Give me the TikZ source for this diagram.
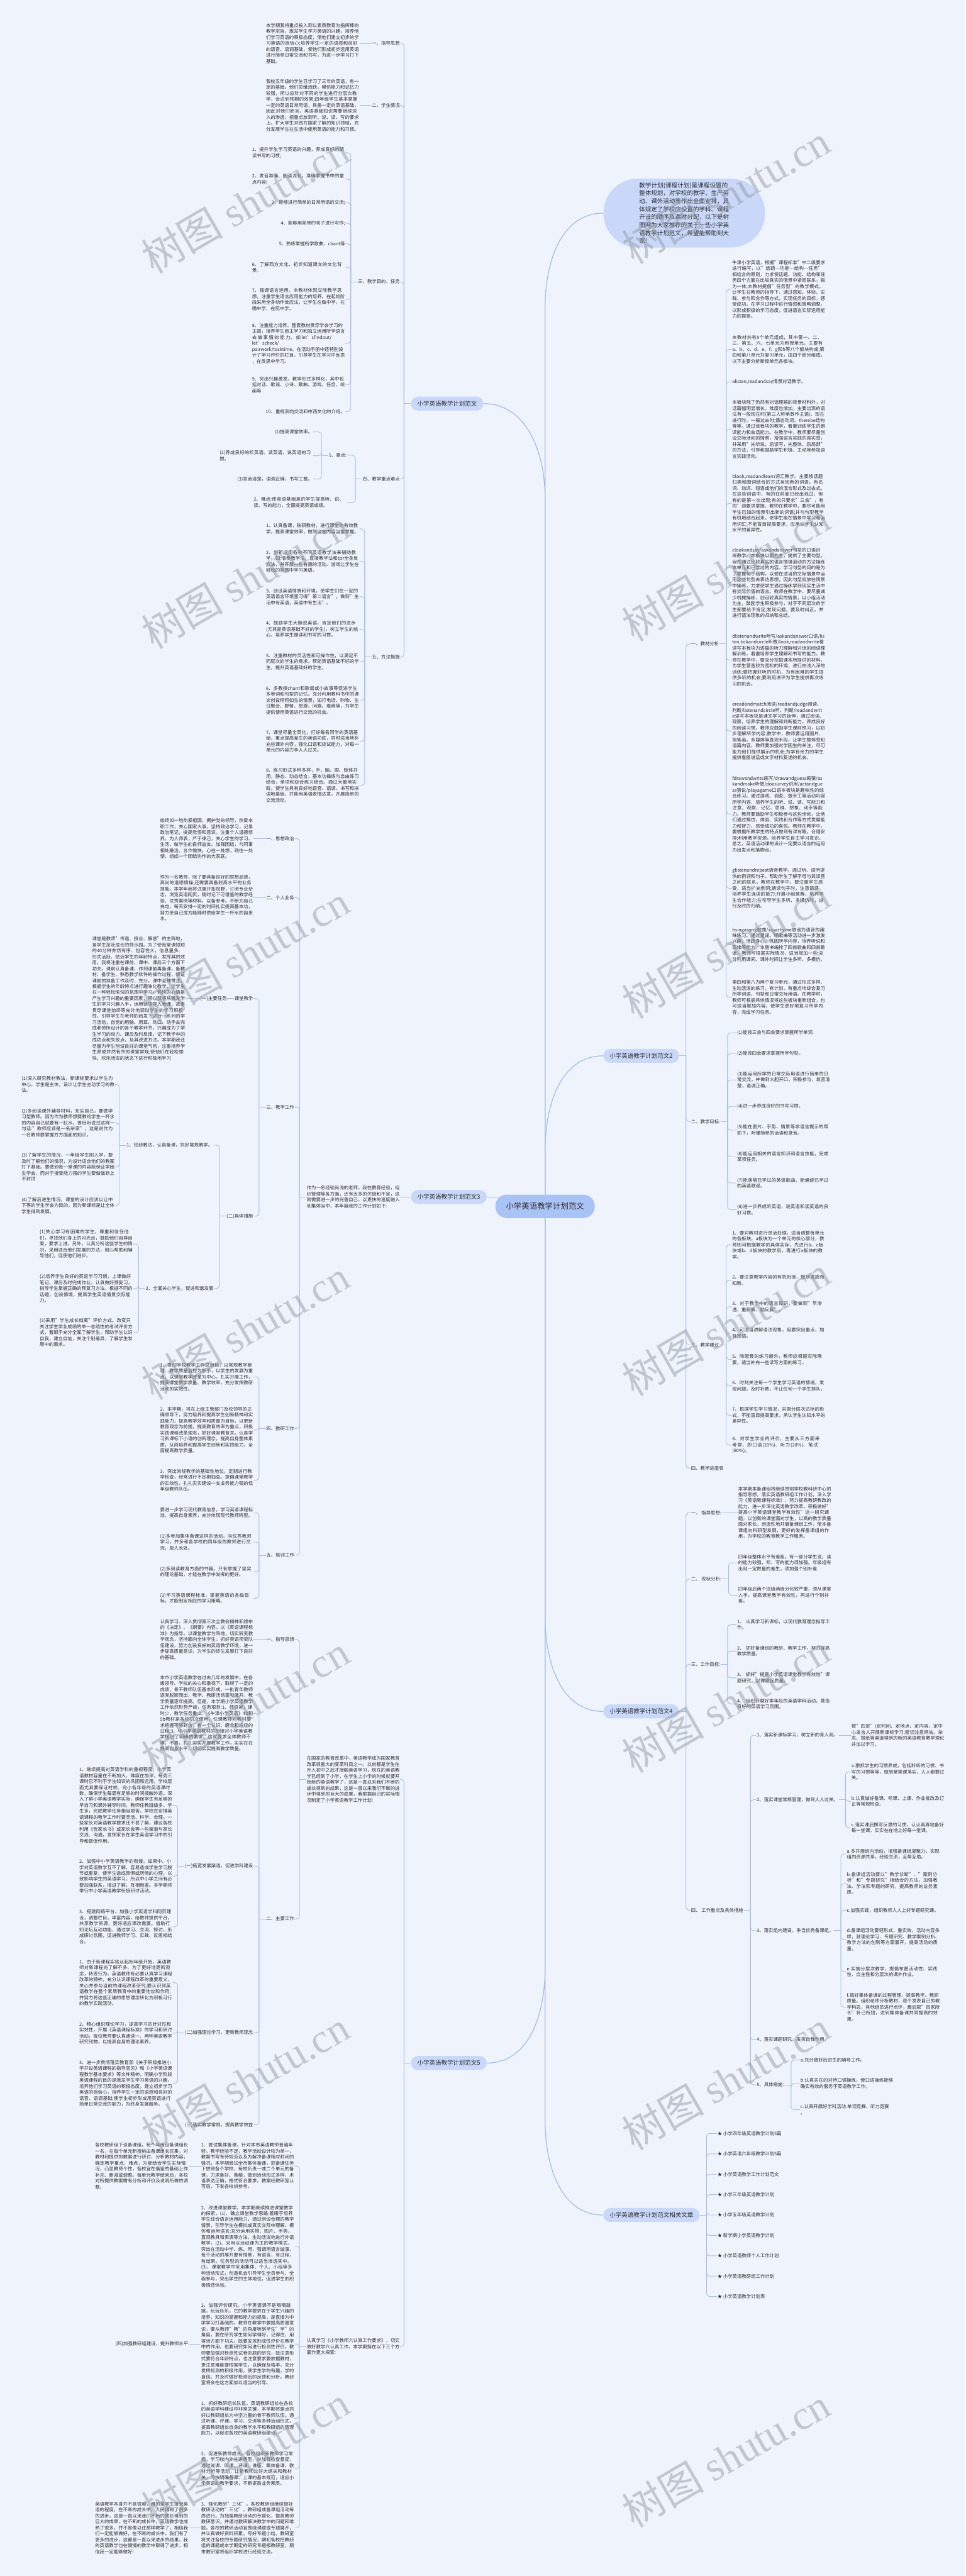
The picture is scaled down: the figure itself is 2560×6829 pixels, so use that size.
\documentclass[tikz,border=0pt]{standalone}
\usepackage{fontspec}
\setmainfont{Noto Sans CJK SC}
\newfontfamily\wmfont{Liberation Serif}
\usetikzlibrary{backgrounds}
\XeTeXlinebreaklocale "zh"
\XeTeXlinebreakskip = 0pt plus 1pt

\definecolor{bgcol}{RGB}{238,243,252}
\definecolor{linecol}{RGB}{166,190,232}
\definecolor{rootcol}{RGB}{170,195,247}
\definecolor{fwcol}{RGB}{201,216,249}
\definecolor{txtcol}{RGB}{45,45,45}
\definecolor{wmcol}{RGB}{150,155,165}

% bracket from a parent to its children (left / right side)
\newcommand{\brl}[2]{\draw[subconn] (#1.west) -- ++(-18,0) coordinate (bk);
  \foreach \nd in {#2}{\draw[subconn] (bk) |- (\nd.east);}}
\newcommand{\brr}[2]{\draw[subconn] (#1.east) -- ++(18,0) coordinate (bk);
  \foreach \nd in {#2}{\draw[subconn] (bk) |- (\nd.west);}}
\newcommand{\onel}[2]{\draw[subconn] (#1.west) -- (#1.west -| #2.east);}
\newcommand{\oner}[2]{\draw[subconn] (#1.east) -- (#1.east -| #2.west);}

\begin{document}
\begin{tikzpicture}[x=0.02cm, y=-0.02cm,
  txt/.style={font=\fontsize{7}{9}\selectfont, text=txtcol, text width=4.93cm, align=left, inner sep=0.5pt},
  lbl/.style={font=\fontsize{7}{9}\selectfont, text=txtcol, inner sep=0.5pt},
  fw/.style={font=\fontsize{9}{11}\selectfont, text=txtcol, fill=fwcol, rounded corners=0.37cm, minimum height=0.74cm, inner xsep=0.34cm},
  rootbox/.style={font=\fontsize{11.8}{14}\selectfont, text=txtcol, fill=rootcol, rounded corners=0.6cm, minimum height=1.24cm, inner xsep=0.56cm},
  bubble/.style={font=\fontsize{9}{12}\selectfont, text=txtcol, fill=fwcol, rounded corners=1.8cm, text width=4.78cm, align=left, inner xsep=1.89cm, inner ysep=0.2cm},
  conn/.style={draw=linecol, line width=1.2pt},
  subconn/.style={draw=linecol, line width=0.85pt, rounded corners=4.5pt},
  wm/.style={text=wmcol, text opacity=0.5, rotate=30, font=\fontsize{62}{62}\selectfont, inner sep=0pt}]
\useasboundingbox (0,0) rectangle (2560,6829);

% Root and intro
\node[rootbox] (root) at (1445,3198) {小学英语教学计划范文};
\node[bubble] (bub) at (1814,565) {教学计划(课程计划)是课程设置的整体规划，对学校的教学、生产劳动、课外活动等作出全面安排，具体规定了学校应设置的学科、课程开设的顺序及课时分配，以下是树图网为大家推荐的关于一些小学英语教学计划范文，希望能帮助到大家!};

% Branch: 范文 (top left)
\node[fw, anchor=west] (fa) at (1089,1070) {小学英语教学计划范文};
\node[lbl, anchor=east] (a1) at (1061,115) {一、指导思想};
\node[txt, anchor=east] (a1t) at (953,115) {本学期我将重点投入到以素质教育为指挥棒的教学宗旨，激发学生学习英语的兴趣，培养他们学习英语的积极态度，使他们建立初步的学习英语的自信心;培养学生一定的语感和良好的语音、语调基础，使他们形成初步运用英语进行简单日常交流和书写，为进一步学习打下基础。};
\node[lbl, anchor=east] (a2) at (1061,279) {二、学生情况};
\node[txt, anchor=east] (a2t) at (953,279) {我校五年级的学生已学习了三年的英语，有一定的基础。他们思维活跃，模仿能力和记忆力较强，所以应针对不同的学生进行分层次教学，会达到预期的效果;四年级学生基本掌握一定的英语日常用语，具备一定的英语基础，因此对他们而言，英语基础知识需要继续深入的渗透，把重点放到听、说、读、写的要求上。扩大学生对西方国家了解的知识领域，充分发展学生在生活中使用英语的能力和习惯。};
\node[lbl, anchor=east] (a3) at (1061,747) {三、教学目的、任务};
\node[txt, anchor=east] (a3c1) at (916,405) {1、提升学生学习英语的兴趣，养成良好的朗读书写的习惯;};
\node[txt, anchor=east] (a3c2) at (916,475) {2、发音准确、朗读流利，准确掌握书中的重点内容;};
\node[lbl, anchor=east] (a3c3) at (916,537) {3、能够进行简单的日常用语的交流;};
\node[lbl, anchor=east] (a3c4) at (916,592) {4、能够用简单的句子进行写作;};
\node[lbl, anchor=east] (a3c5) at (916,646) {5、熟练掌握所学歌曲、chant等};
\node[txt, anchor=east] (a3c6) at (916,709) {6、了解西方文化，初步知道课文的文化背景。};
\node[txt, anchor=east] (a3c7) at (916,794) {7、强调语言运用。本教材体现交际教学思想，注重学生语言应用能力的培养。在起始阶段采用全身动作反应法，让学生在做中学，在唱中学，在玩中学。};
\node[txt, anchor=east] (a3c8) at (916,910) {8、注重能力培养。整套教材贯穿学会学习的\\主题，培养学生自主学习和独立运用所学语言\\去做事情的能力。如let'sfindout/let'scheck/\\pairwork/tasktime。在活动手册中还特别设\\计了学习评价的栏目。引导学生在学习中反思\\，在反思中学习。};
\node[txt, anchor=east] (a3c9) at (916,1020) {9、突出兴趣激发。教学形式多样化，其中包括对话、歌谣、小诗、歌曲、游戏、任务、绘画等};
\node[lbl, anchor=east] (a3c10) at (916,1091) {10、重视双向交流和中西文化的介绍。};
\node[lbl, anchor=east] (a4) at (1061,1270) {四、教学重点难点};
\node[lbl, anchor=east] (a4a) at (920,1207) {1、重点:};
\node[lbl, anchor=east] (a4a1) at (830,1145) {(1)提高课堂效率。};
\node[txt, anchor=east] (a4a2) at (830,1208) {(2)养成良好的听英语、读英语、说英语的习惯。};
\node[lbl, anchor=east] (a4a3) at (830,1270) {(3)发音清楚，语调正确，书写工整。};
\node[txt, anchor=east] (a4b) at (920,1332) {2、难点:使英语基础差的学生提高听、说、读、写的能力，全面提高英语成绩。};
\node[lbl, anchor=east] (a5) at (1061,1742) {五、方法措施};
\node[txt, anchor=east] (a5c1) at (953,1402) {1、认真备课，钻研教材，进行课堂的有效教学，提高课堂效率，做到当堂内容当堂掌握。};
\node[txt, anchor=east] (a5c2) at (953,1488) {2、创新运用各种不同英语教学法来辅助教学，如:情景教学法、直接教学法和tpr全身反应法，并开展一些有趣的活动、游戏让学生在轻松的氛围中学习英语。};
\node[txt, anchor=east] (a5c3) at (953,1582) {3、创设英语情景和环境，使学生们在一定的英语语言环境里习得"第二语言"。做到"生活中有英语，英语中有生活"。};
\node[txt, anchor=east] (a5c4) at (953,1668) {4、鼓励学生大胆说英语，肯定他们的进步(尤其是英语基础不好的学生)，树立学生的信心，培养学生朗读和书写的习惯。};
\node[txt, anchor=east] (a5c5) at (953,1754) {5、注重教材的灵活性和可操作性，以满足不同层次的学生的需求。帮助英语基础不好的学生，提升英语基础好的学生。};
\node[txt, anchor=east] (a5c6) at (953,1856) {6、多教授chant和歌谣或小故事等促进学生多单词和句型的记忆。充分利用教科书中的课文创设栩栩如生的情景，如打电话、购物、生日聚会、野餐、旅游、问路、看病等，为学生提供使用英语进行交流的机会。};
\node[txt, anchor=east] (a5c7) at (953,1965) {7、课堂尽量全英化，打好每名同学的英语基础，重点提高差生的英语功底，同时适当地补充些课外内容，强化口语和应试能力，对每一单元的内容力争人人过关。};
\node[txt, anchor=east] (a5c8) at (953,2082) {8、练习形式多种多样，手、脑、眼、肢体并用，静态、动态结合，基本功操练与自由练习结合，单项和综合练习结合。通过大量地实践，使学生具有良好地语音、语调、书写和拼读地基础，并能用英语表情达意，开展简单的交流活动。};

% Branch: 范文3 (left middle)
\node[fw, anchor=west] (fc) at (1089,3173) {小学英语教学计划范文3};
\node[txt, anchor=east] (c0) at (1061,3173) {作为一名经验尚浅的老师，我在教育经验，组织管理等各方面，还有太多的欠缺和不足，这就需要进一步的完善自己，以更快的速度融入到集体当中，本年度我的工作计划如下:};
\node[lbl, anchor=east] (c1) at (781,2223) {一、思想政治};
\node[txt, anchor=east] (c1t) at (672,2223) {始终如一地热爱祖国，拥护党的领导，热爱本职工作，关心国家大事，坚持政治学习，记录政治笔记，提高觉悟和意识。注重个人道德修养，为人师表，严于律己，关心学生的学习、生活，做学生的良师益友。加强团结，与同事相处融洽，合作愉快，心往一处想，劲往一处使，组成一个团结协作的大家庭。};
\node[lbl, anchor=east] (c2) at (781,2380) {二、个人业务};
\node[txt, anchor=east] (c2t) at (672,2380) {作为一名教师，除了要具备良好的思想品德，高尚的道德情操;还需要具备较高水平的业务技能。本学年我将注重开拓视野，订阅专业杂志，浏览英语网页，随时记下可借鉴的教学经验、优秀案例等材料，以备参考。不断为自己充电，每天安排一定的时间扎实提高基本功，努力使自己成为能随时供给学生一杯水的自来水。};
\node[lbl, anchor=east] (c3) at (781,2935) {三、教学工作};
\node[lbl, anchor=east] (c3a) at (672,2647) {(一)主要任务——课堂教学};
\node[txt, anchor=east] (c3at) at (492,2647) {课堂是教师"传道、授业、解惑"的主阵地，是学生茁壮成长的快乐园。为了使每堂课短短的40分钟井然有序、包容性大，信息量多、形式活跃、贴近学生的年龄特点，发挥其的效用。我将注重在课前、课中、课后三个方面下功夫。课前认真备课，作到课前再备课，备教材、备学生，熟悉教学软件的操作过程，保证课前的准备工作及时、充分。课中全神贯注。根据学生的年龄特点进行趣味化教学，让学生在一种轻松愉快的氛围中学习。愉快的心情是产生学习兴趣的重要因素，所以我将从激发学生的学习兴趣入手，运用谜语导入新课，故事贯穿课堂始终等充分地调动学生的学习积极性，引导学生在老师的启发下进行一系列的学习活动，自觉的用脑、用耳、动口、动手去完成老师所设计的各个教学环节，兴趣成为了学生学习的动力。课后及时反馈。记下教学中的成功点和失败点，及其改进方法。本学期我还尽量为学生创设良好的课堂气氛，注重培养学生养成井然有序的课堂常规;使他们在轻松愉快、欢乐活泼的状态下进行积极地学习};
\node[lbl, anchor=east] (c3b) at (672,3224) {(二)具体措施};
\node[lbl, anchor=east] (c3b1) at (565,3036) {1、钻研教法，认真备课，抓好常规教学。};
\node[txt, anchor=east] (c3b1a) at (305,2875) {(1)深入研究教材教法，新课标要求以学生为中心，学生是主体，设计让学生主动学习的教法。};
\node[txt, anchor=east] (c3b1b) at (305,2977) {(2)多阅读课外辅导材料，充实自己，要做学习型教师。因为作为教师想要教给学生一杯水的内容自己就要有一缸水。曾经听说过这样一句话:"教师应该是一名杂家"，这是说作为一名教师要掌握方方面面的知识。};
\node[txt, anchor=east] (c3b1c) at (305,3094) {(3)了解学生的情况，一年级学生刚入学，要及时了解他们的情况，为设计适合他们的教案打下基础。要做到每一堂课的内容能保证学困生学会，而对于接受能力强的学生要做做到上不封顶};
\node[txt, anchor=east] (c3b1d) at (305,3196) {(4)了解后进生情况，课堂的设计应该以让中下等的学生学会为目的，因为新课标是让全体学生得到发展。};
\node[lbl, anchor=east] (c3b2) at (567,3416) {2、全面关心学生，促进和谐发展};
\node[txt, anchor=east] (c3b2a) at (353,3298) {(1)关心学习有困难的学生，尊重和信任他们，寻找他们身上的闪光点，鼓励他们自尊自爱，要求上进。另外，认真分析这些学生的情况，采用适合他们发展的方法，耐心帮助和辅导他们，促使他们进步。};
\node[txt, anchor=east] (c3b2b) at (353,3416) {(2)培养学生良好的英语学习习惯，上课做好笔记，课后及时完成作业，认真做好预复习，指导学生掌握正确的预复习方法。根据不同的话题，创设情境，提高学生英语情景交际能力。};
\node[txt, anchor=east] (c3b2c) at (353,3533) {(3)采用"学生成长档案"评价方式。改变只关注学生学业成绩的单一总结性的考试评价方式，着眼于充分全面了解学生，帮助学生认识自我，建立自信，关注个别差异，了解学生发展中的需求。};
\node[lbl, anchor=east] (c4) at (781,3787) {四、教研工作};
\node[txt, anchor=east] (c4a) at (672,3650) {1、贯彻学校教学工作总目标，以常规教学管理、教学质量监控为抓手，以学生的发展为重点，以课堂教学改革为中心，扎实开展工作，提高课堂教学质量、教学效率，充分发挥教研活动的实效性。};
\node[txt, anchor=east] (c4b) at (672,3791) {2、本学期，将在上级主管部门及校领导的正确领导下，努力培养和提高学生创新精神和实践能力，提高教学效率和质量为目标，以更新教育观念为前提，提高教育效率为重点，积极实践课程改革理念，抓好课堂教育关。认真学习新课标下小语的创新理念，提高自身整体素质，从而培养和提高学生创新和实践能力，全面提高教学质量。};
\node[txt, anchor=east] (c4c) at (672,3924) {3、突出常规教学的基础性地位，定期进行教学检查，经常进行不定期抽查。提倡课堂教学的实效性，扎扎实实建设一支业务能力强的低年级教师队伍。};
\node[lbl, anchor=east] (c5) at (781,4123) {五、培训工作};
\node[txt, anchor=east] (c5a) at (672,4010) {要进一步学习现代教育信息，学习英语课程标准，提高自身素养，充分体现现代教师转型。};
\node[txt, anchor=east] (c5b) at (672,4088) {(1)多参加集体备课这样的活动，向优秀教师学习。并多和各学校的同年级的教师进行交流，取人长处。};
\node[txt, anchor=east] (c5c) at (672,4167) {(2)多阅读教育方面的书籍。只有掌握了坚实的理论基础，才能在教学中发挥的更好。};
\node[txt, anchor=east] (c5d) at (672,4237) {(3)学习英语课程标准，掌握英语的各级目标，才能制定相应的学习策略。};

% Branch: 范文5 (bottom left)
\node[fw, anchor=west] (fe) at (1089,5469) {小学英语教学计划范文5};
\node[txt, anchor=east] (e1) at (1061,4717) {在国家的教育改革中，英语教学成为国家教育改革很重大的变革科目之一。以前都是学生在升入初中之后才接触英语学习，现在的英语教学已经到了小学，在学生上小学的时候就要开始新的英语教学了，这是一直以来我们不断的成长得到的成果，这是一直以来我们不断的进步中得到的巨大的成果，我根据自己的实际情况制定了小学英语教学工作计划:};
\node[lbl, anchor=east] (e1a) at (781,4346) {一、指导思想};
\node[txt, anchor=east] (e1at) at (672,4346) {认真学习、深入贯彻第三次全教会精神和颁布的《决定》、《纲要》内容，以《英语课程标准》为指导，以课堂教学为阵地，切实转变教学观念，坚持面向全体学生，抓好英语师资队伍建设，努力创设良好的英语教学环境，进一步提高质量意识，为学生的终生发展打下良好的基础。};
\node[lbl, anchor=east] (e1b) at (781,5087) {二、主要工作};
\node[txt, anchor=east] (e1b1) at (672,4542) {本市小学英语教学在过去几年的发展中，在各级领导、学校的关心和重视下，取得了一定的成绩，骨干教师队伍基本形成，一批青年教师逐渐脱颖而出，教学、教研活动蓬勃展开，教学质量逐年提高。但是，本学期小学英语教学工作依然形势严峻，任务艰巨:1、师资紧，课时少，教学任务重;2、《牛津小学英语》4b和5b教材是各校初次使用，任课教师对教材要求把握不够到位，有一个认识、磨合和适应的过程;3、中小学英语教材的衔接对小学英语教学提出了明确的要求。这就要求全体教师不等、不靠，扎扎实实开展教学工作，实实在在提高自身水平，切切实实提高教学质量。};
\node[lbl, anchor=east] (e1b2) at (672,4947) {(一)拓宽发展渠道，促进学科建设};
\node[txt, anchor=east] (e1b2a) at (458,4786) {1、继续提高对英语学科的重视程度。小学英语教材容量在不断加大，难度在加深，每周三课时已不利于学生知识的巩固和运用。学校层面尤其要保证村校、完小各年级的英语课时数，确保学生每周有足够的时间接触外语。深入了解小学英语教学实际，确保学生有足够的早自习和课外辅导时间。教师任教班级多，学生多，完成教学任务相当艰苦，学校在安排英语课程的教学工作时要灵活、科学、合理。一些家长对英语教学要求还不甚了解，建议各校利用《告家长书》或家长会等一些渠道与家长交流、沟通，发挥家长在学生英语学习中的引导和督促作用。};
\node[txt, anchor=east] (e1b2b) at (458,4974) {2、加强中小学英语教学的衔接。如果中、小学对英语教学互不了解，容易造成学生学习脱节或重复，使学生造成畏惧或厌倦的心理，以致影响学生的英语学习。所以中小学之间有必要加强联系，增进了解，互相借鉴。本学期将举行中小学英语教学衔接研讨活动。};
\node[txt, anchor=east] (e1b2c) at (458,5108) {3、搭建网络平台。加强小学英语学科网页建设，调整栏目，丰富内容，给教师提供平台，共享教学资源，更好适应课改需要。借助行知论坛互动功能，通过学习、交流、探讨，形成研讨氛围，促进教师学习、实践、反思相结合。};
\node[lbl, anchor=east] (e1b3) at (672,5389) {(二)加强理论学习，更新教师观念};
\node[txt, anchor=east] (e1b3a) at (458,5256) {1、由于新课程实验从起始年级开始，英语教师对新课程尚了解不多，为了更好地更新观念，转变行为，英语教师有必要认真学习课程改革的精神，充分认识课程改革的重要意义，关心并参与当前的课程改革研究;要认识到英语教学在整个素质教育中的重要地位和作用;并努力将这些正确的思想理念转化为积极可行的教学实践活动。};
\node[txt, anchor=east] (e1b3b) at (458,5390) {2、精心组织理论学习，提高学习的针对性和实效性，开展《英语课程标准》的学习和研讨活动，每位教师要认真通读一、两种英语教学研究刊物，以提高自身的理论素养。};
\node[txt, anchor=east] (e1b3c) at (458,5523) {3、进一步贯彻落实教育部《关于积极推进小学开设英语课程的指导意见》和《小学英语课程教学基本要求》等文件精神，明确小学阶段英语课程的目的是激发学生学习英语的兴趣，培养他们学习英语的积极态度，建立初步学习英语的自信心，培养学生一定的语感和良好的语音、语调基础;使学生初步形成用英语进行简单日常交流的能力，为终身发展服务。};
\node[lbl, anchor=east] (e1b4) at (672,5633) {(三)落实教学常规，提高教学效益};
\node[txt, anchor=east] (e2) at (1061,6221) {认真学习《小学教师六认真工作要求》，切实做好教学六认真工作。本学期拟在以下三个方面作更大探索:};
\node[txt, anchor=east] (e2a) at (781,5742) {1、尝试集体备课。针对本市英语教师普遍年轻，教学经验不足，教学活动设计较为单一，教案书写有待规范以及为解决备课相对封闭的情况，本学期尝试全市集体备课，把备课任务下放到各个学校，每校负责一或二个单元的备课，力求备好、备精，做到活动形式多样，术语表达正确，格式符合要求。教案经教研室认可后，下发各校供参考。};
\node[txt, anchor=east] (e2at) at (500,5742) {各校教研组下设备课组，每个年级设备课组长一名，在每个单元新授前由备课组长召集，对教材和提供的教案进行研讨，分析教材内容，确定教学重点、难点，为能结合学生实际情况，凸显教师个性，各校宜在借鉴的基础上作补充、删减或调整。每单元教学结束后，各校对所提供教案需有分析和评价及说明所做的调整。};
\node[txt, anchor=east] (e2b) at (781,5955) {2、改进课堂教学。本学期继续推进课堂教学的探索，(1)、确立课堂教学思路:着眼于培养学生综合语言运用能力，通过创设合理的教学情景，引导学生在模拟或真实交际中理解、模仿和运用语言;充分运用实物、图片、手势、直观教具和表演等方法，生动活泼地进行外语教学。(2)、采用以活动课为主的教学模式，突出在活动中学、练、用，强调用语言做事，每个活动的展开要有情景，有语言，有过程，有结果。任务型的活动可以适当渗透其中。(3)、课堂教学中采用集体、个人、小组等多种活动形式，创造机会引导学生全员参与、全程参与，突出学生的主体地位，促进学生的积极情感体验。};
\node[txt, anchor=east] (e2c) at (781,6214) {3、加强评价研究。小学英语课不是唱唱跳跳，玩玩乐乐，它的教学要求在于学生兴趣的培养，知识的掌握和能力的提高，是直接为中学学习打基础的。教师在教学中要提高质量意识，要从教师"教"的角度转到学生"学"的角度，要在研究学生如何学得好，记得住，用得活方面下功夫。既要发挥形成性评价在教学中的作用，也要研究如何进行检测性评价。教师要加强对检测性试卷命题的研究，既注意形式要符合年龄特点，也注意要求要依据教材，更注意难度要根据学生，以确保及格率，充分发挥检测的积极作用，使学生学的有趣，学的自信。并及时做好检测后的反馈和分析。教研室将会在这方面加以适当的引导。};
\node[lbl, anchor=east] (e2ct) at (500,6214) {(四)加强教研组建设，提升教师水平};
\node[txt, anchor=east] (e2d) at (781,6411) {1、抓好教研组长队伍。英语教研组长在各校的英语学科建设中非常关键，本学期将重点抓好以教研组长为中坚力量的骨干教师队伍。通过听课、评课，学习、交流等多种活动形式，提高教研组长自身的教学水平和教研组的管理能力，以促进各校的英语教研组建设。};
\node[txt, anchor=east] (e2e) at (781,6544) {2、促进新教师成长。各校组织新教师学习常规，学习校内外先进典型，并加强检查督促，通过说课、听课、评课、讲座、集体备课、教材分析等活动，让新教师过好大纲关和教材关，尽快明确备课、上课的基本规范，适应小学英语的教学要求，不断提高业务素质。};
\node[txt, anchor=east] (e2f) at (781,6701) {3、强化教研"三化"。各校教研组继续做好教研活动的"三化"，教研组或备课组活动每周进行。为加强教研活动的专题化，提高教师教研意识，并通过教研解决教学中的问题和难题，各校的教研活动宜围绕课题或专题展开，并认真做好资料积累，写好专题小结。教研室将关注各校的专题研究情况，期初各校把教研组的课题或本学期定的研究专题报教研室，期末教研室将组织学校进行经验交流。};
\node[txt, anchor=east] (e2ft) at (500,6701) {英语教学本身并不是很难，难的是学生接受英语的程度，在不断的成长中，人民得到了很多的进步，这是一直以来我们不断的成长得到的巨大的成果，在不断的成长中，英语教学也成熟了很多，并不是像以往那样教学了，相信我们一定能够做好，在不断的成长中，我们有了更多的进步，这都是一直以来进步的结果。我的英语教学也在慢慢的教学中取得了进步，相信我一定能够做好!};

% Branch: 范文2 (right)
\node[fw, anchor=west] (fb) at (1599,2799) {小学英语教学计划范文2};
\node[lbl, anchor=west] (b1) at (1831,1707) {一、教材分析};
\node[txt, anchor=west] (b1c1) at (1940,767) {牛津小学英语，根据"课程标准"中二级要求进行编写，以"话题-{}-{}-功能-{}-{}-结构-{}-{}-任务"相结合的原则，力求使话题、功能、结构和任务四个方面在比较真实的情景中紧密联系，融为一体;本教材提倡"任务型"的教学模式，让学生在教师的指导下，通过感知、体验、实践、参与和合作等方式，实现任务的目标，感受成功。在学习过程中进行情感和策略调整，以形成积极的学习态度，促进语言实际运用能力的提高。};
\node[txt, anchor=west] (b1c2) at (1940,926) {本教材共有8个单元组成，其中第一、二、三，第五、六、七单元为新授单元，主要有a、b、c、d、e、f、g和h等八个板块构成;第四和第八单元为复习单元，由四个部分组成。以下主要分析新授单元各板块。};
\node[lbl, anchor=west] (b1c3) at (1940,1012) {alisten,readandsay情景对话教学。};
\node[txt, anchor=west] (b1c4) at (1940,1138) {本板块除了仍然有对话理解的背景材料外，对话篇幅明显增长，难度也增加，主要出现的语法有一般现在时(第三人称单数作主语)、现在进行时、一般过去时;情态动词、therebe结构等等。通过该板块的教学，着重训练学生的朗读能力和会话能力。在教学中，教师要尽量创设交际活动的情景，增强语言实践的真实感，并采用"先听说、后读写，先整体、后局部"的方法，引导和鼓励学生积极、主动地参加语言实践活动。};
\node[txt, anchor=west] (b1c5) at (1940,1334) {blook,readandlearn词汇教学。主要按话题归类和图词结合的方式呈现新的词语，有名词、动词、短语或他们的混合形式及过去式。在这些词语中，有的在前面已经出现过，但有的是第一次出现;有的只要求"三会"，有的"却要求掌握。教师在教学中，要尽可能用学生已知的情景引出新的词语;并与句型教学有机地结合起来，使学生能在情景中学习和运用词汇;不能盲目提高要求，应承认学生认知水平的差异性。};
\node[txt, anchor=west] (b1c6) at (1940,1545) {clookandsay/askandanswer句型的口语训\\练教学。本板块以图为主，提供了主要句型，旨在通过比较真实的语言情境滚动的方法操练本单元和已学过的内容。学习句型的目的是为了掌握句子结构，以便在适当的交际情景中运用这些句型去表达思想，因此句型应放在情景中操练，力求使学生通过操练学到现实生活中有交际价值的语言。教师在教学中，要尽量减少机械操练，创设较真实的情景，以小组活动为主，鼓励学生积极参与，对于不同层次的学生都要给予肯定;发现问题，要及时纠正，并进行语法现象的归纳和总结。};
\node[txt, anchor=west] (b1c7) at (1940,1750) {dlistenandwrite听写/askandanswer口语/lis\\ten,tickandcircle听做/look,readandwrite看\\读写本板块为语篇的听力理解和对话的阅读理解训练，着重培养学生理解和书写的能力。教师在教学中，要充分挖掘课本所提供的材料，为学生营造较为宽松的环境，进行由浅入深的训练;要把握好听的时机，为有困难的学生提供多听的机会;要利用讲评为学生提供再次练习的机会。};
\node[txt, anchor=west] (b1c8) at (1940,1938) {ereadandmatch阅读/readandjudge阅读、\\判断/listenandcircle听、判断/readandwrit\\e读写本板块是课文学习的延伸，通过阅读、观察，培养学生的理解和判断能力，养成良好的阅读习惯。教师应鼓励学生课前预习，以初步理解所学内容;教学中，教师要运用图片、简笔画，多媒体等直观手段，让学生整体感知语篇内容。教师要加强对学困生的关注，尽可能为他们提供展示的机会;为学有余力的学生提供看图说话或文字材料复述的机会。};
\node[txt, anchor=west] (b1c9) at (1940,2158) {fdrawandwrite画写/drawandguess画猜/as\\kandmake听做/doasurvey说用/actandgue\\ss猜说/playagame口语本板块是趣味性的综合练习。通过游戏、调查、做手工等活动巩固所学内容，培养学生的听、说、读、写能力和注意、观察、记忆、思维、想象、动手等能力。教师要鼓励学生积极参与这些活动，让他们通过模仿、体验、实践和合作等方式发展能力和智力，感受成功的喜悦。教师在教学中，要根据所教学生的特点做到有详有略，合理安排;利用教学资源，培养学生自主学习意识。总之，英语活动课的设计一定要以语言的运用为出发点和落脚点。};
\node[txt, anchor=west] (b1c10) at (1940,2355) {glistenandrepeat语音教学。通过听、读所提供的例词和句子，帮助学生了解字母与其读音之间的联系。教师在教学中，要注重学生感受，适当扩充例词;朗读句子时，注意语感，培养学生连读的能力;开展小组竞赛，培养学生合作能力;在引导学生多听、多模仿时，进行及时的归纳。};
\node[txt, anchor=west] (b1c11) at (1940,2504) {hsingasong歌曲/sayarhyme歌谣为语音的趣味练习。通过童谣、唱歌曲等活动进一步激发兴趣，活跃身心，巩固所学内容，培养听说和思维等能力。本册书编排了四首歌曲和四首歌谣，教师可根据实际情况，适当增加一些;充分利用课间、课外时间让学生多听、多模仿。};
\node[txt, anchor=west] (b1c12) at (1940,2644) {第四和第八为两个复习单元，通过形式多样、生动活泼的练习，有计划、有重点地综合复习所学词语、句型和日常交际用语。在教学时，教师可根据具体情况将这些板块重新组合，也可适当增加内容，使学生更好地复习所学内容，完成学习任务。};
\node[lbl, anchor=west] (b2) at (1831,2973) {二、教学目标:};
\node[lbl, anchor=west] (b2c1) at (1953,2738) {(1)能按三会与四会要求掌握所学单词.};
\node[lbl, anchor=west] (b2c2) at (1953,2793) {(2)能按四会要求掌握所学句型。};
\node[txt, anchor=west] (b2c3) at (1953,2863) {(3)能运用所学的日常交际用语进行简单的日常交流，并做到大胆开口，积极参与，发音清楚，语调正确。};
\node[lbl, anchor=west] (b2c4) at (1953,2933) {(4)进一步养成良好的书写习惯。};
\node[txt, anchor=west] (b2c5) at (1953,2996) {(5)能在图片、手势、情景等非语言提示的帮助下，听懂简单的话语和录音。};
\node[txt, anchor=west] (b2c6) at (1953,3066) {(6)能运用相关的语言知识和语言技能，完成某项任务。};
\node[txt, anchor=west] (b2c7) at (1953,3136) {(7)能演唱已学过的英语歌曲，能诵读已学过的英语歌谣。};
\node[txt, anchor=west] (b2c8) at (1953,3207) {(8)进一步养成听英语，说英语和读英语的良好习惯。};
\node[lbl, anchor=west] (b3) at (1831,3565) {三、教学建议};
\node[txt, anchor=west] (b3c1) at (1940,3300) {1、要对教材进行灵活处理，适当调整每单元的各板块。a板块为一个单元的核心部分，教师则可根据教学的具体实际，先进行b、c板块或b、d板块的教学后，再进行a板块的教学。};
\node[txt, anchor=west] (b3c2) at (1940,3394) {2、要注意教学内容的有机衔接，做到温故而知新。};
\node[txt, anchor=west] (b3c3) at (1940,3464) {3、对于教学中的语言知识，要做到"早渗透、重积累、勤反复"。};
\node[txt, anchor=west] (b3c4) at (1940,3534) {4、可适当讲解语法现象，但要突出重点，加强感悟。};
\node[txt, anchor=west] (b3c5) at (1940,3604) {5、除配套的练习册外，教师应根据实际需要，适当补充一些读写方面的练习。};
\node[txt, anchor=west] (b3c6) at (1940,3674) {6、时刻关注每一个学生学习英语的情绪，发现问题，及时补救，不让任何一个学生掉队。};
\node[txt, anchor=west] (b3c7) at (1940,3752) {7、根据学生学习情况，采取分层次达标的形式，不能盲目提高要求，承认学生认知水平的差异性。};
\node[txt, anchor=west] (b3c8) at (1940,3831) {8、对学生学业的评价，主要从三方面来考察，即口语(20\%)、听力(20\%)、笔试(60\%)。};
\node[lbl, anchor=west] (b4) at (1831,3892) {四、教学进度表};

% Branch: 范文4 (right)
\node[fw, anchor=west] (fd) at (1599,4537) {小学英语教学计划范文4};
\node[lbl, anchor=west] (d1) at (1831,4010) {一、 指导思想:};
\node[txt, anchor=west] (d1t) at (1956,4010) {本学期本备课组将继续贯彻学校教科研中心的指导思想，落实英语教研组工作计划，深入学习《英语新课程标准》，努力提高教研教改的能力，进一步深化英语教学改革，积极做好"提高小学英语课堂教学有效性"这一研究课题。以创新的课堂面对学生，以高的教学质量面对家长，创造性地开展备课组工作，使本备课组向科研型发展，更好的发挥备课组的作用，为学校的教育教学工作服务。};
\node[lbl, anchor=west] (d2) at (1831,4186) {二、 现状分析:};
\node[txt, anchor=west] (d2a) at (1956,4143) {四年级整体水平有差距，有一部分学生说、读的能力较强，听、写的能力须加强。年级组有出现一定数量的差生，须加强个别补差.};
\node[txt, anchor=west] (d2b) at (1956,4229) {四年级后两个班级两级分化较严重，须从课堂入手，提高课堂教学有效性，再进行个别补差。};
\node[lbl, anchor=west] (d3) at (1831,4412) {三、工作目标:};
\node[txt, anchor=west] (d3a) at (1953,4307) {1、 认真学习新课标，以现代教育理念指导工作。};
\node[txt, anchor=west] (d3b) at (1953,4377) {2、 抓好备课组的教研、教学工作，努力提高教学质量。};
\node[txt, anchor=west] (d3c) at (1953,4448) {3、 抓好"提高小学英语课堂教学有效性"课题研究，以课题促质量。};
\node[txt, anchor=west] (d3d) at (1953,4517) {4、 组织开展好本年段的英语学科活动，营造良好的英语学习氛围。};
\node[lbl, anchor=west] (d4) at (1831,5064) {四、 工作重点及具体措施};
\node[lbl, anchor=west] (d4a) at (2005,4600) {1、落实新课标学习，树立新的育人观。};
\node[txt, anchor=west] (d4at) at (2256,4600) {按"四定"(定时间、定地点、定内容、定中心发言人开展新课标学习;密切注意网站、杂志、报纸等渠道得到的新的英语教育教学理论并加以学习。};
\node[lbl, anchor=west] (d4b) at (2005,4771) {2、落实课堂常规管理，做到人人过关。};
\node[txt, anchor=west] (d4b1) at (2256,4697) {a.狠抓学生的习惯养成，包括聆听的习惯、书写的习惯等等，做到堂堂课落实，人人都要过关。};
\node[txt, anchor=west] (d4b2) at (2256,4775) {b.认真做好备课、听课、上课、作业批改及订正等常规检查。};
\node[txt, anchor=west] (d4b3) at (2256,4845) {c.落实课后撰写反思的习惯，认认真真地备好每一堂课，实实在在地上好每一堂课。};
\node[lbl, anchor=west] (d4c) at (2005,5118) {3、落实组内建设，争当优秀备课组。};
\node[txt, anchor=west] (d4c1) at (2244,4915) {a.多开展组内活动，增强备课组凝聚力，实现组内资源共享，经验交流，互帮互助。};
\node[txt, anchor=west] (d4c2) at (2244,4993) {b.备课组活动要以"教学诊断"、"案例分析"和"专题研究"相结合的方法，加强教法、学法和专题的研究，提高教师的业务素质。};
\node[lbl, anchor=west] (d4c3) at (2244,5064) {c.加强实践，组织教师人人上好专题研究课。};
\node[txt, anchor=west] (d4c4) at (2244,5142) {d.备课组活动要轻形式，重实效，活动内容多样，就理论学习、专题研究、教学案例分析、教学方法的创新等方面展开，提高活动的质量。};
\node[txt, anchor=west] (d4c5) at (2244,5227) {e.实施分层次教学，提倡布置活动性、实践性、自主性和分层次的课外作业。};
\node[txt, anchor=west] (d4c6) at (2244,5321) {f.搞好集体备课的过程管理，提高教学、教研质量。组织老师分析教材，逐个发表自己的教学构思，其他组员进行点评，最后取"百家所长"补己所短，达到集体备课共同提高的效果。};
\node[lbl, anchor=west] (d4d) at (2005,5407) {4、落实课题研究，发挥自我作用。};
\node[lbl, anchor=west] (d4e) at (2005,5527) {5、具体措施:};
\node[lbl, anchor=west] (d4e1) at (2121,5461) {a.充分做好后进生的辅导工作。};
\node[txt, anchor=west] (d4e2) at (2121,5523) {b.认真实在的对待口语操练，使口语操练能够确实有效的服务于英语教学工作。};
\node[txt, anchor=west] (d4e3) at (2121,5593) {c.认真开展好学科活动:单词竞赛、听力竞赛\\。};

% Branch: related articles
\node[fw, anchor=west] (fg) at (1599,5872) {小学英语教学计划范文相关文章};
\foreach \t [count=\i] in {小学四年级英语教学计划5篇, 小学英语六年级教学计划5篇, 小学英语教学工作计划范文, 小学三年级英语教学计划, 小学五年级英语教学计划, 新学期小学英语教学计划, 小学英语教师个人工作计划, 小学英语教研组工作计划, 小学英语教学计划表}
  \node[lbl, anchor=west] (g\i) at (1901,{5602+54*\i}) {★ \t};

% Connectors (under the boxes)
\begin{scope}[on background layer]
  \fill[bgcol] (0,0) rectangle (2560,6829);
  \draw[conn] (root.center) -- (1445,1320) to[out=90,in=0] (fa.east);
  \draw[conn] (root.center) -- (1445,815) to[out=90,in=180] (bub.west);
  \draw[conn] (root.center) -- (1445,3049) to[out=90,in=180] (fb.west);
  \draw[conn] (fc.east) -- (fc.east -| root.center);
  \draw[conn] (root.center) -- (1445,4287) to[out=-90,in=180] (fd.west);
  \draw[conn] (root.center) -- (1445,5219) to[out=-90,in=0] (fe.east);
  \draw[conn] (root.center) -- (1445,5622) to[out=-90,in=180] (fg.west);
  % left side
  \brl{fa}{a1,a2,a3,a4,a5}
  \onel{a1}{a1t}
  \onel{a2}{a2t}
  \brl{a3}{a3c1,a3c2,a3c3,a3c4,a3c5,a3c6,a3c7,a3c8,a3c9,a3c10}
  \brl{a4}{a4a,a4b}
  \brl{a4a}{a4a1,a4a2,a4a3}
  \brl{a5}{a5c1,a5c2,a5c3,a5c4,a5c5,a5c6,a5c7,a5c8}
  \onel{fc}{c0}
  \brl{c0}{c1,c2,c3,c4,c5}
  \onel{c1}{c1t}
  \onel{c2}{c2t}
  \brl{c3}{c3a,c3b}
  \onel{c3a}{c3at}
  \brl{c3b}{c3b1,c3b2}
  \brl{c3b1}{c3b1a,c3b1b,c3b1c,c3b1d}
  \brl{c3b2}{c3b2a,c3b2b,c3b2c}
  \brl{c4}{c4a,c4b,c4c}
  \brl{c5}{c5a,c5b,c5c,c5d}
  \brl{fe}{e1,e2}
  \brl{e1}{e1a,e1b}
  \onel{e1a}{e1at}
  \brl{e1b}{e1b1,e1b2,e1b3,e1b4}
  \brl{e1b2}{e1b2a,e1b2b,e1b2c}
  \brl{e1b3}{e1b3a,e1b3b,e1b3c}
  \brl{e2}{e2a,e2b,e2c,e2d,e2e,e2f}
  \onel{e2a}{e2at}
  \onel{e2c}{e2ct}
  \onel{e2f}{e2ft}
  % right side
  \brr{fb}{b1,b2,b3,b4}
  \brr{b1}{b1c1,b1c2,b1c3,b1c4,b1c5,b1c6,b1c7,b1c8,b1c9,b1c10,b1c11,b1c12}
  \brr{b2}{b2c1,b2c2,b2c3,b2c4,b2c5,b2c6,b2c7,b2c8}
  \brr{b3}{b3c1,b3c2,b3c3,b3c4,b3c5,b3c6,b3c7,b3c8}
  \brr{fd}{d1,d2,d3,d4}
  \oner{d1}{d1t}
  \brr{d2}{d2a,d2b}
  \brr{d3}{d3a,d3b,d3c,d3d}
  \brr{d4}{d4a,d4b,d4c,d4d,d4e}
  \oner{d4a}{d4at}
  \brr{d4b}{d4b1,d4b2,d4b3}
  \brr{d4c}{d4c1,d4c2,d4c3,d4c4,d4c5,d4c6}
  \brr{d4e}{d4e1,d4e2,d4e3}
  \brr{fg}{g1,g2,g3,g4,g5,g6,g7,g8,g9}
\end{scope}

% Watermarks
\foreach \k in {0,...,6} {
  \node[wm] at (650,{540+995*\k}) {树图 {\wmfont shutu.cn}};
  \node[wm] at (1924,{515+1000*\k}) {树图 {\wmfont shutu.cn}};
}
\end{tikzpicture}
\end{document}
